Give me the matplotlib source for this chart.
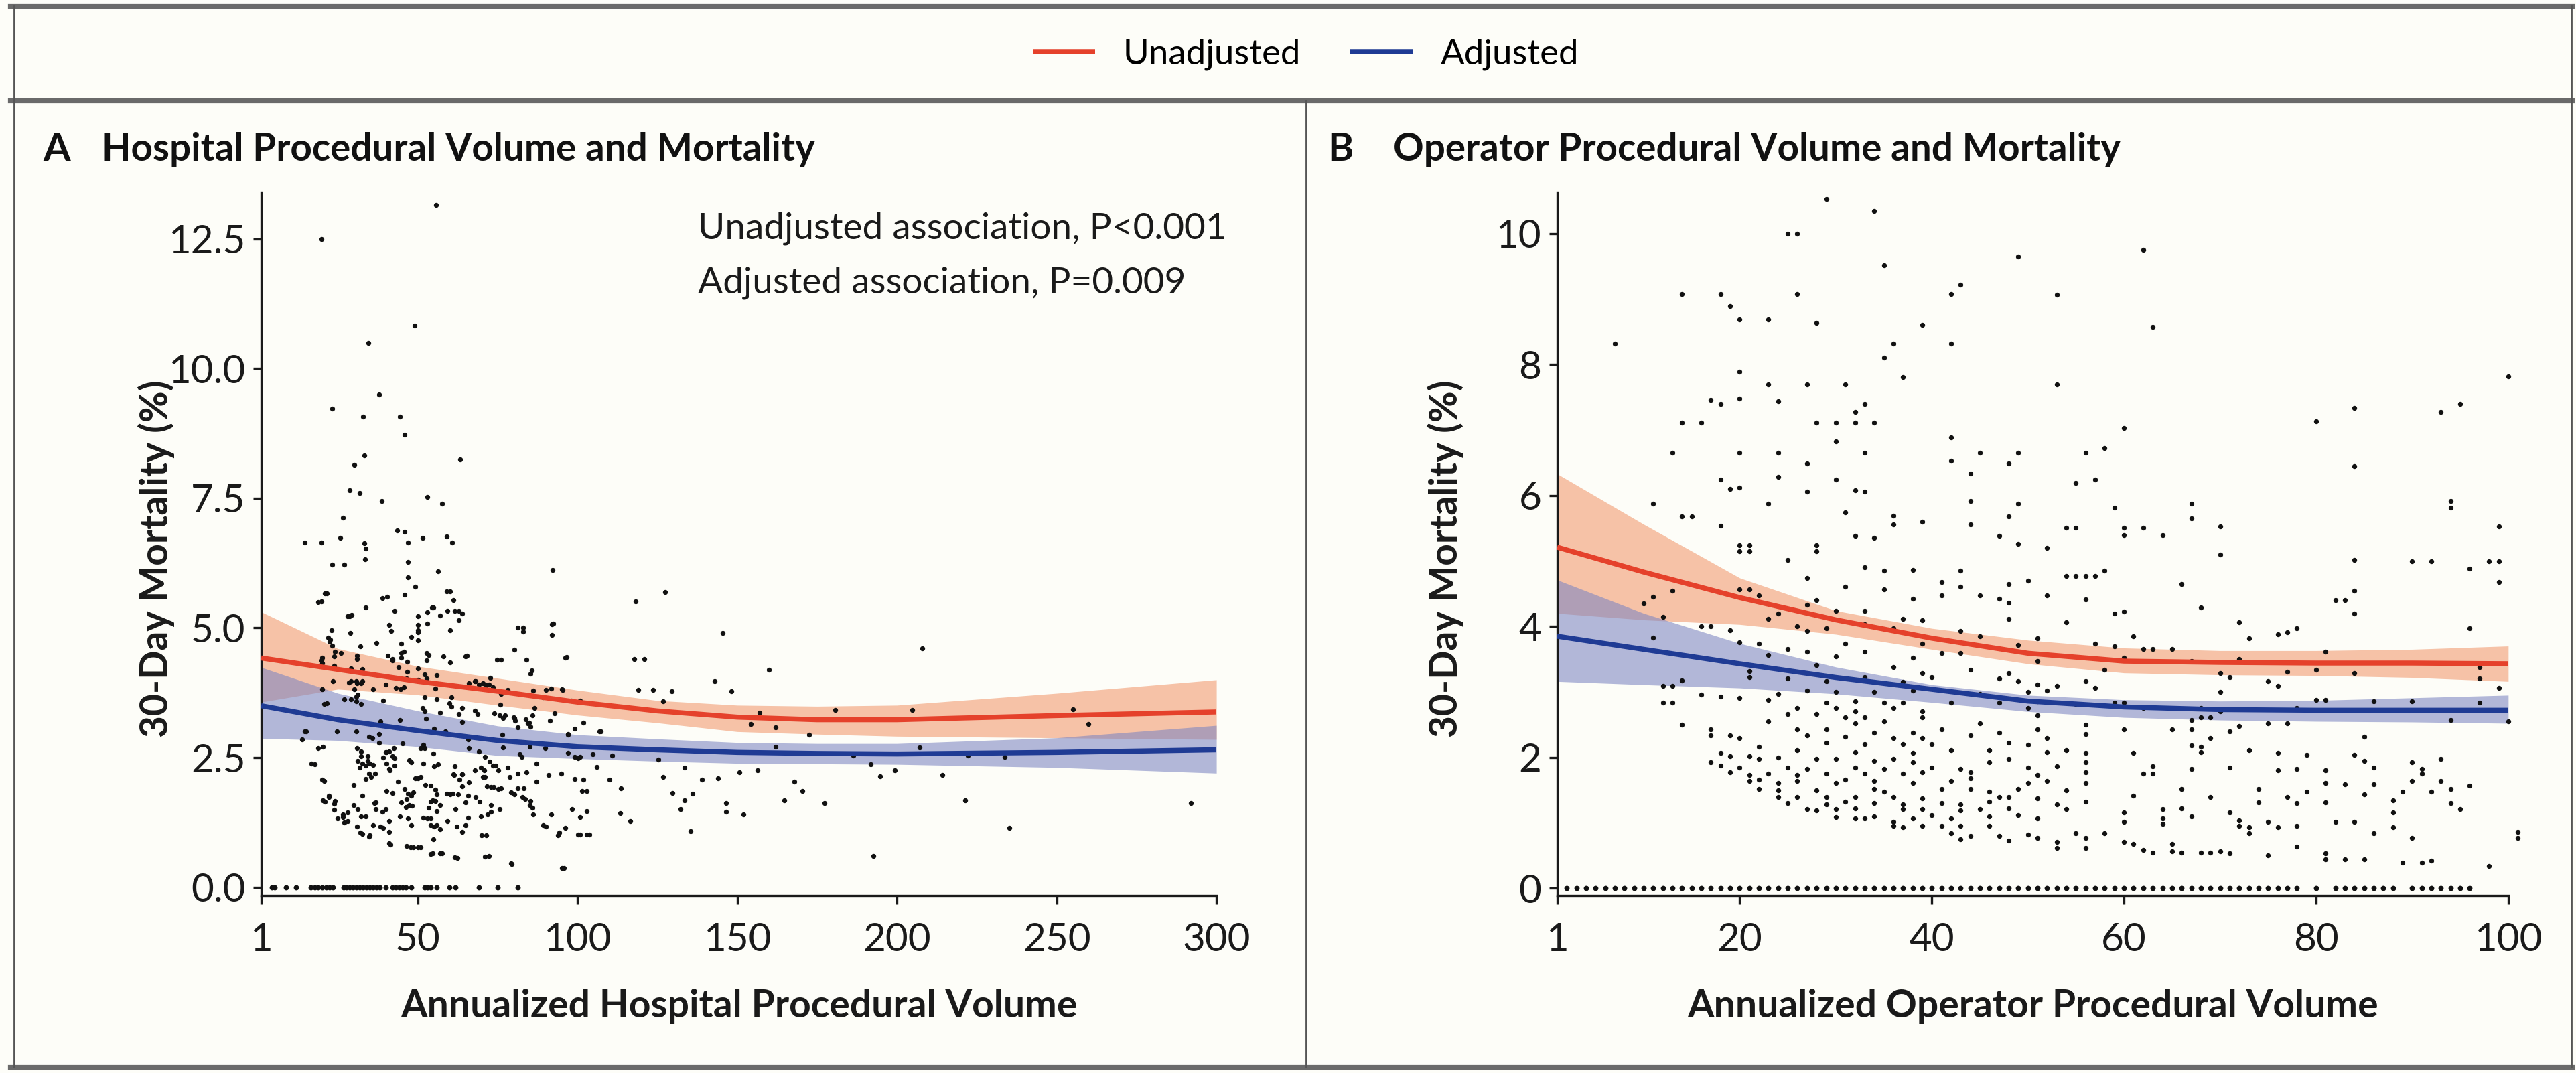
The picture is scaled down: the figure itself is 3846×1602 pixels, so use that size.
import numpy as np
import matplotlib.pyplot as plt
from matplotlib.lines import Line2D

plt.rcParams['font.family'] = ['Lato', 'DejaVu Sans']

# ---------------- data ----------------
# Panel A: hospital volume
hosp_curve_x = [1, 25, 50, 75, 100, 125, 150, 175, 200, 250, 300]
hosp_unadj = [4.42, 4.20, 3.97, 3.78, 3.57, 3.40, 3.28, 3.23, 3.23, 3.31, 3.38]
hosp_unadj_hi = [5.31, 4.60, 4.26, 4.03, 3.80, 3.60, 3.51, 3.49, 3.51, 3.74, 4.00]
hosp_unadj_lo = [3.57, 3.82, 3.71, 3.51, 3.32, 3.17, 3.00, 2.95, 2.91, 2.88, 2.85]
hosp_adj = [3.50, 3.23, 3.02, 2.83, 2.71, 2.65, 2.60, 2.58, 2.57, 2.60, 2.65]
hosp_adj_hi = [4.24, 3.74, 3.40, 3.11, 2.94, 2.86, 2.79, 2.77, 2.77, 2.88, 3.12]
hosp_adj_lo = [2.87, 2.83, 2.71, 2.54, 2.48, 2.43, 2.39, 2.38, 2.37, 2.31, 2.20]

hosp_points = [
    (55.8, 13.15), (19.8, 12.5), (49, 10.83), (34.6, 10.5), (37.8, 9.5), (23.2, 9.23),
    (32.8, 9.07), (44.5, 9.07), (45.9, 8.73), (33.3, 8.33), (63.3, 8.25), (30.2, 8.15),
    (28.6, 7.65), (31.8, 7.6), (38.8, 7.45), (52.9, 7.53), (57.6, 7.4), (26.6, 7.12),
    (14.6, 6.65), (19.8, 6.65), (25.8, 6.74), (33.3, 6.64), (33.8, 6.53), (43.5, 6.88),
    (45.9, 6.85), (46.9, 6.65), (51.6, 6.74), (59.1, 6.76), (60.7, 6.65), (33.6, 6.32),
    (23.2, 6.22), (27.1, 6.22), (46.9, 6.27), (56.3, 6.09), (92.3, 6.12), (46.9, 5.98),
    (49.2, 5.79), (21.6, 5.67), (40.4, 5.6), (60.2, 5.7), (127.5, 5.69), (118.3, 5.51),
    (19.8, 5.51), (54.5, 5.4), (62.8, 5.33), (57, 5.24), (29.4, 5.25), (50, 5.06),
    (92.5, 5.08), (82.9, 5.0), (41.7, 4.94), (145.5, 4.9), (22.6, 4.78), (37.1, 4.71),
    (24, 4.54), (45.6, 4.54), (208, 4.6), (53.4, 4.48), (96.7, 4.44), (117.8, 4.4),
    (120.9, 4.4), (65.4, 4.46), (19.8, 4.37), (42.2, 4.37), (76.1, 4.39), (85.7, 4.18),
    (160, 4.19), (29.2, 4.22), (52.1, 4.1), (46.4, 4.03), (142.9, 3.97), (23.4, 3.97),
    (31, 3.94), (32.6, 3.97), (67.8, 3.97), (69.1, 3.91), (72.2, 3.91), (73.5, 3.86),
    (45.6, 3.86), (55.5, 3.83), (91.7, 3.83), (95.4, 3.8), (119.1, 3.8), (123.6, 3.8),
    (129.6, 3.78), (148.1, 3.78), (76.1, 3.73), (60.5, 3.66), (27.1, 3.62), (30.7, 3.59),
    (126.9, 3.59), (21.6, 3.55), (63.8, 3.46), (86.5, 3.46), (180.7, 3.42), (204.7, 3.42),
    (255.2, 3.43), (156.9, 3.36), (68.8, 3.34), (77.4, 3.32), (80, 3.28), (52.6, 3.25),
    (44.3, 3.23), (38.3, 3.2), (84.9, 3.17), (101.9, 3.17), (259.9, 3.15), (154.3, 3.15),
    (162.1, 3.08), (55.2, 3.05), (15.1, 3.0), (58.6, 3.0), (107.4, 3.0), (76.4, 2.94),
    (97, 2.94), (35.9, 2.88), (65.7, 2.85), (83.9, 2.79), (172.6, 2.94), (20.3, 2.71),
    (45.3, 2.77), (50.8, 2.68), (76.6, 2.69), (162.1, 2.71), (207, 2.69), (32.3, 2.62),
    (40.1, 2.6), (69.1, 2.62), (104.8, 2.57), (110.8, 2.54), (82.6, 2.51), (100.9, 2.51),
    (186.4, 2.54), (222.1, 2.54), (233.8, 2.51), (125.4, 2.46), (34.4, 2.43), (17.7, 2.37),
    (51.8, 2.39), (56.3, 2.37), (31.8, 2.31), (74.3, 2.35), (133.5, 2.31), (191.9, 2.37),
    (41.2, 2.25), (70.9, 2.25), (156.4, 2.25), (150.7, 2.22), (199.4, 2.25), (214.3, 2.16),
    (194.7, 2.14), (35.4, 2.13), (49.2, 2.1), (63.1, 2.08), (78.7, 2.12), (90.9, 2.16),
    (110, 2.08), (126.9, 2.13), (138.9, 2.08), (143.9, 2.1), (167.9, 2.03), (20.8, 2.05),
    (29.9, 1.97), (52.4, 1.97), (73.8, 1.93), (81.3, 1.91), (101.4, 1.85), (113.6, 1.91),
    (170.5, 1.85), (42.2, 1.82), (59.1, 1.8), (65.7, 1.77), (129.8, 1.82), (136.1, 1.8),
    (164.8, 1.68), (177.3, 1.62), (221.3, 1.68), (292, 1.62), (22.1, 1.74), (24, 1.66),
    (36.5, 1.62), (46.4, 1.7), (55.5, 1.66), (69.3, 1.65), (85.2, 1.66), (133.5, 1.68),
    (146.5, 1.62), (31.2, 1.51), (39.9, 1.51), (53.4, 1.53), (61.8, 1.51), (75.6, 1.51),
    (86, 1.53), (98.3, 1.51), (132.2, 1.51), (26.6, 1.4), (32.3, 1.36), (44.5, 1.37),
    (51.8, 1.34), (65.7, 1.34), (69.8, 1.36), (91.7, 1.4), (113.3, 1.43), (146.5, 1.45),
    (116.5, 1.28), (28.1, 1.28), (38.3, 1.17), (47.9, 1.19), (55.2, 1.17), (62.3, 1.17),
    (90.2, 1.17), (152, 1.4), (135.3, 1.08), (235.2, 1.14), (32, 1.05), (34.9, 1.0),
    (71.4, 1.0), (94.4, 1.05), (100.9, 1.02), (103.7, 1.02), (41.4, 0.82), (47.7, 0.77),
    (50.8, 0.77), (54.7, 0.65), (57.6, 0.65), (62.5, 0.56), (72.2, 0.6), (79.5, 0.45),
    (95.7, 0.37), (192.7, 0.6),
    # denser cluster, read from a closer look
    (18.9, 5.5), (21, 5.66), (33.8, 5.4), (39, 5.57), (45.9, 5.64), (59, 5.7), (61.2, 5.54),
    (42.7, 5.33), (50.1, 5.23), (28, 5.23), (28.7, 5.23), (41, 5.06), (52.9, 5.3), (54.9, 5.4),
    (59.2, 5.33), (61.6, 5.33), (63.9, 5.28), (62.8, 5.15), (52.9, 5.09), (50.1, 4.96),
    (50.1, 4.92), (60.1, 4.96), (23.1, 4.96), (28.9, 4.9), (48, 4.83), (50.1, 4.76),
    (44.8, 4.7), (32.1, 4.65), (21.9, 4.81), (22.4, 4.73), (23.3, 4.66), (25.9, 4.51),
    (23.8, 4.45), (20, 4.42), (20, 4.32), (23.8, 4.27), (31, 4.47), (31, 4.4), (32.6, 4.21),
    (40.6, 4.47), (42, 4.4), (44.8, 4.51), (44.8, 4.42), (46.8, 4.35), (43.9, 4.24),
    (46.8, 4.15), (50.1, 4.22), (52.8, 4.52), (52.8, 4.37), (58.1, 4.45), (60.1, 4.34),
    (64.9, 4.45), (56, 4.09), (52.8, 4.02), (50.1, 4.0), (40.1, 3.91), (43.1, 3.84),
    (44.6, 3.82), (28.4, 3.95), (29.1, 3.97), (30.8, 3.97), (32.2, 3.93), (30.1, 3.82),
    (31.2, 3.71), (36, 3.82), (20, 3.82), (29.1, 3.63), (30.8, 3.67), (32.2, 3.54),
    (20.8, 3.54), (39.1, 3.6), (52.2, 3.66), (56, 3.62), (51.5, 3.46), (52.2, 3.39),
    (59.9, 3.55), (60.6, 3.48), (57, 3.36), (62.9, 3.34), (64, 3.19), (66.1, 3.93),
    (68, 3.97), (70.4, 3.93), (71.4, 3.89), (72.8, 4.04), (78.1, 3.8), (74.9, 4.39),
    (80.2, 4.58), (84.1, 4.39), (85.2, 4.12), (81.3, 5.0), (83, 4.93), (92, 5.07),
    (92, 4.87), (96.1, 4.42), (86.2, 3.79), (90.2, 3.8), (95.1, 3.82), (89.2, 3.66),
    (98.1, 3.6), (100.9, 3.6), (92.9, 3.35), (75.9, 3.52), (67.9, 3.41), (73.9, 3.35),
    (75.6, 3.31), (76.6, 3.26), (80.2, 3.26), (80.5, 3.21), (83.8, 3.24), (84.4, 3.16),
    (91.3, 3.21), (86, 3.32), (99.1, 3.05), (97.1, 2.95), (106.8, 3.01), (81.3, 3.08),
    (85.2, 3.09), (85.1, 2.71), (90, 2.68), (81.9, 2.56), (97, 2.59), (99.1, 2.51),
    (100.2, 2.49), (106.1, 2.32), (94.9, 2.19), (99.1, 2.09), (101.9, 2.07), (103, 1.85),
    (87.1, 2.39), (87.1, 2.03), (84.1, 2.22), (81.3, 2.19), (78.1, 2.31), (75.3, 2.26),
    (73.5, 2.34), (72.5, 2.42), (71.1, 2.51), (69.8, 2.31), (67.9, 2.26), (70.4, 2.13),
    (71.1, 2.13), (71.6, 1.95), (72.9, 1.93), (75.3, 1.89), (76, 1.91), (66, 2.68),
    (66, 2.02), (63.9, 2.18), (63.9, 1.95), (61.6, 2.33), (61.1, 2.18), (60.2, 1.79),
    (60.9, 1.8), (62.7, 1.79), (68, 1.74), (64.9, 1.63), (79.2, 1.83), (80.2, 1.79),
    (83.2, 1.91), (82.7, 1.74), (83.7, 1.7), (85.1, 1.59), (86.2, 1.4), (72.9, 1.59),
    (72.9, 1.46), (71.8, 1.4), (89.3, 1.2), (93.9, 1.0), (96.1, 1.15), (100.9, 1.35),
    (103, 1.47), (100.2, 1.02), (103, 1.02), (70, 1.0), (71.1, 0.59), (79.2, 0.46),
    (95.1, 0.37), (54.9, 2.58), (51.8, 2.75), (52.2, 2.68), (47.3, 2.45), (48, 2.41),
    (40.3, 2.6), (41.1, 2.62), (42, 2.53), (42.7, 2.49), (42.5, 2.68), (39.2, 2.5),
    (40.3, 2.38), (41.1, 2.28), (42.7, 2.34), (34.3, 2.53), (32.2, 2.53), (31, 2.68),
    (31.2, 2.43), (32.6, 2.39), (33.8, 2.34), (35, 2.38), (36.1, 2.36), (34.7, 2.19),
    (36.6, 2.19), (33.8, 2.09), (34.7, 2.9), (37.8, 2.95), (37.8, 2.79), (24.7, 3.0),
    (30.8, 3.0), (14.7, 3.0), (13.7, 2.85), (18.9, 2.68), (16.8, 2.38), (20, 2.07),
    (22.1, 1.76), (20.3, 1.68), (21, 1.65), (23.8, 1.61), (23.8, 1.49), (24.9, 1.33),
    (26.6, 1.35), (27, 1.25), (28, 1.44), (30, 1.59), (32.7, 1.76), (33.8, 1.37),
    (31, 1.17), (32.6, 1.03), (34.7, 0.98), (36, 1.19), (36.8, 1.63), (36.8, 1.5),
    (38.9, 1.46), (39.1, 1.15), (41.1, 1.27), (41.1, 1.07), (41.1, 0.85), (40.3, 1.85),
    (43.8, 2.04), (44.8, 1.63), (46.2, 1.55), (47.3, 1.59), (48.1, 1.57), (45.9, 1.89),
    (47, 1.8), (48, 1.76), (48.7, 1.83), (46.9, 1.33), (46.6, 0.79), (48.7, 0.77),
    (50.1, 0.77), (50.1, 2.1), (50.8, 2.13), (54, 1.96), (55.6, 1.88), (56, 1.79),
    (54, 1.65), (54.6, 1.68), (57, 1.59), (56, 1.47), (52.9, 1.33), (54, 1.33), (54, 1.2),
    (56, 1.2), (57, 1.12), (59.2, 1.27), (54.9, 0.93), (54, 0.64), (57, 0.66), (61.6, 0.58),
    (64.9, 1.2), (63.9, 1.07), (55, 2.33), (61.3, 2.17), (63.9, 2.18),
]
hosp_zero_x = [4.4, 5.3, 8.8, 11.9, 16.6, 17.7, 18.9, 20.0, 21.4, 22.4, 23.5, 26.8, 27.7,
               28.7, 29.8, 30.8, 31.9, 32.9, 34.0, 35.0, 36.1, 37.1, 38.2, 40.1, 42.0, 43.1,
               44.1, 45.2, 46.2, 48.0, 52.2, 53.1, 54.1, 56.0, 59.9, 61.9, 69.1, 75.0, 81.3]

# Panel B: operator volume
oper_curve_x = [1, 10, 20, 30, 40, 50, 60, 70, 80, 90, 100]
oper_unadj = [5.21, 4.83, 4.44, 4.10, 3.82, 3.59, 3.47, 3.45, 3.44, 3.44, 3.43]
oper_unadj_hi = [6.33, 5.56, 4.74, 4.24, 3.97, 3.79, 3.67, 3.63, 3.63, 3.65, 3.70]
oper_unadj_lo = [4.20, 4.10, 4.03, 3.88, 3.65, 3.43, 3.29, 3.26, 3.25, 3.22, 3.16]
oper_adj = [3.85, 3.65, 3.43, 3.22, 3.04, 2.86, 2.77, 2.73, 2.72, 2.72, 2.72]
oper_adj_hi = [4.71, 4.20, 3.74, 3.38, 3.11, 2.95, 2.88, 2.86, 2.87, 2.91, 2.95]
oper_adj_lo = [3.16, 3.11, 3.06, 2.97, 2.84, 2.70, 2.61, 2.57, 2.55, 2.54, 2.52]

oper_points = [
    (29, 10.53), (34, 10.34), (25, 10.0), (26, 10.0), (49, 9.65), (62, 9.75), (35, 9.52),
    (14, 9.08), (18, 9.08), (26, 9.08), (53, 9.07), (42, 9.08), (43, 9.22), (19, 8.89),
    (20, 8.69), (23, 8.69), (28, 8.64), (39, 8.61), (63, 8.57), (7, 8.32), (36, 8.32),
    (42, 8.32), (35, 8.1), (20, 7.89), (37, 7.81), (100, 7.82), (23, 7.69), (27, 7.69),
    (31, 7.69), (53, 7.69), (17, 7.46), (18, 7.4), (20, 7.48), (24, 7.44), (33, 7.4),
    (84, 7.34), (95, 7.4), (93, 7.28), (32, 7.28), (14, 7.11), (16, 7.11), (28, 7.11),
    (30, 7.11), (32, 7.11), (34, 7.11), (80, 7.13), (60, 7.03), (30, 6.83), (42, 6.89),
    (13, 6.65), (20, 6.65), (24, 6.65), (33, 6.65), (45, 6.65), (49, 6.65), (56, 6.65),
    (58, 6.72), (42, 6.53), (27, 6.49), (48, 6.49), (84, 6.45), (44, 6.33), (24, 6.28),
    (30, 6.24), (18, 6.24), (57, 6.24), (19, 6.1), (20, 6.12), (55, 6.19), (27, 6.06),
    (32, 6.08), (33, 6.06), (11, 5.87), (23, 5.87), (44, 5.92), (49, 5.87), (67, 5.87),
    (94, 5.92), (94, 5.81), (59, 5.81), (14, 5.68), (15, 5.68), (36, 5.69), (31, 5.74),
    (48, 5.68), (67, 5.65), (36, 5.56), (54, 5.51), (55, 5.51), (70, 5.53), (99, 5.53),
    (18, 5.54), (44, 5.56), (60, 5.51), (62, 5.51), (60, 5.39), (64, 5.39), (39, 5.6),
    (47, 5.38), (34, 5.35), (32, 5.38), (20, 5.24), (21, 5.24), (20, 5.15), (21, 5.15),
    (28, 5.24), (28, 5.15), (52, 5.2), (70, 5.1), (49, 5.26), (25, 5.01), (84, 5.01),
    (90, 4.99), (92, 4.99), (98, 4.99), (99, 4.99), (96, 4.88), (33, 4.9), (35, 4.85),
    (38, 4.86), (43, 4.85), (54, 4.77), (55, 4.77), (56, 4.77), (58, 4.85), (57, 4.77),
    (27, 4.74), (99, 4.68), (66, 4.65), (31, 4.61), (41, 4.68), (43, 4.61), (48, 4.65),
    (50, 4.7), (21, 4.56), (22, 4.47), (20, 4.56), (11, 4.45), (13, 4.54), (18, 4.51),
    (35, 4.56), (38, 4.42), (41, 4.47), (45, 4.47), (47, 4.42), (48, 4.36), (52, 4.47),
    (84, 4.54), (82, 4.4), (83, 4.4), (84, 4.2), (56, 4.41), (27, 4.33), (28, 4.4),
    (10, 4.35), (24, 4.2), (30, 4.24), (33, 4.24), (68, 4.29), (60, 4.23), (59, 4.2),
    (12, 4.15), (23, 4.12), (37, 4.12), (39, 4.09), (48, 4.12), (54, 4.06), (72, 4.06),
    (77, 3.91), (78, 3.97), (76, 3.88), (96, 3.97), (16, 4.0), (17, 4.0), (19, 3.94),
    (26, 4.0), (27, 3.93), (29, 3.97), (33, 4.03), (36, 3.97), (43, 3.93), (45, 3.85),
    (51, 3.82), (11, 3.83), (73, 3.82), (61, 3.85), (20, 3.76), (22, 3.74), (31, 3.74),
    (39, 3.74), (49, 3.72), (57, 3.74), (59, 3.7), (62, 3.65), (63, 3.65), (65, 3.65),
    (25, 3.65), (27, 3.61), (33, 3.61), (41, 3.59), (43, 3.59), (81, 3.61), (23, 3.56),
    (30, 3.54), (38, 3.52), (60, 3.52), (67, 3.47), (72, 3.5), (51, 3.47), (28, 3.41),
    (36, 3.38), (97, 3.38), (44, 3.34), (48, 3.29), (58, 3.34), (70, 3.29), (77, 3.31),
    (21, 3.32), (21, 3.23), (33, 3.22), (39, 3.29), (40, 3.23), (71, 3.22), (84, 3.29),
    (80, 3.34), (25, 3.2), (29, 3.16), (37, 3.15), (47, 3.2), (49, 3.16), (51, 3.11),
    (53, 3.09), (56, 3.16), (14, 3.17), (75, 3.16), (12, 3.09), (13, 3.09), (76, 3.09),
    (97, 3.2), (99, 3.06), (27, 3.02), (30, 3.0), (34, 3.0), (38, 3.02), (45, 2.97),
    (50, 3.0), (52, 3.02), (57, 3.06), (70, 3.0), (24, 2.97), (16, 2.96), (18, 2.93),
    (20, 2.91), (12, 2.84), (13, 2.84), (23, 2.88), (29, 2.84), (32, 2.86), (35, 2.84),
    (37, 2.84), (42, 2.84), (47, 2.84), (51, 2.86), (55, 2.82), (59, 2.84), (60, 2.84),
    (80, 2.88), (81, 2.88), (86, 2.86), (90, 2.86), (97, 2.84), (26, 2.75), (30, 2.75),
    (32, 2.7), (36, 2.75), (39, 2.7), (50, 2.75), (62, 2.75), (68, 2.75), (70, 2.7),
    (78, 2.75), (25, 2.66), (28, 2.66), (31, 2.61), (33, 2.61), (39, 2.61), (51, 2.64),
    (68, 2.61), (69, 2.61), (67, 2.57), (94, 2.57), (100, 2.55), (14, 2.5), (23, 2.55),
    (32, 2.52), (35, 2.55), (45, 2.52), (56, 2.5), (75, 2.52), (77, 2.52), (60, 2.43),
    (29, 2.43), (34, 2.38), (38, 2.38), (41, 2.43), (47, 2.38), (51, 2.43), (65, 2.43),
    (67, 2.43), (71, 2.4), (72, 2.48), (17, 2.43), (26, 2.43), (27, 2.34), (31, 2.31),
    (36, 2.29), (39, 2.29), (44, 2.34), (52, 2.29), (56, 2.36), (69, 2.29), (85, 2.31),
    (17, 2.34), (19, 2.34), (20, 2.29), (29, 2.22), (33, 2.2), (37, 2.2), (40, 2.2),
    (48, 2.22), (50, 2.19), (67, 2.18), (68, 2.16), (22, 2.16), (26, 2.11), (32, 2.08),
    (38, 2.07), (42, 2.11), (46, 2.11), (52, 2.08), (54, 2.11), (56, 2.07), (61, 2.07),
    (73, 2.11), (76, 2.07), (79, 2.04), (84, 2.04), (68, 2.08), (18, 2.07), (19, 2.02),
    (21, 2.02), (22, 1.98), (24, 2.0), (28, 1.98), (30, 1.98), (34, 1.95), (36, 1.98),
    (38, 1.93), (46, 1.93), (48, 1.98), (56, 1.93), (85, 1.95), (90, 1.93), (93, 1.98),
    (17, 1.93), (18, 1.87), (20, 1.84), (25, 1.84), (27, 1.82), (32, 1.84), (35, 1.82),
    (40, 1.84), (43, 1.82), (50, 1.84), (53, 1.86), (63, 1.86), (67, 1.82), (71, 1.84),
    (76, 1.8), (78, 1.82), (81, 1.8), (86, 1.84), (91, 1.82), (91, 1.75), (19, 1.77),
    (21, 1.73), (23, 1.75), (26, 1.73), (29, 1.75), (33, 1.75), (37, 1.75), (39, 1.77),
    (44, 1.77), (51, 1.73), (56, 1.77), (62, 1.75), (63, 1.75), (21, 1.64), (22, 1.66),
    (24, 1.61), (26, 1.64), (30, 1.61), (31, 1.66), (34, 1.64), (38, 1.61), (42, 1.64),
    (44, 1.68), (50, 1.61), (52, 1.64), (56, 1.61), (81, 1.61), (83, 1.59), (86, 1.59),
    (90, 1.64), (93, 1.64), (94, 1.52), (22, 1.52), (24, 1.5), (28, 1.5), (34, 1.52),
    (35, 1.48), (41, 1.52), (44, 1.52), (46, 1.48), (49, 1.52), (54, 1.5), (66, 1.52),
    (74, 1.52), (79, 1.48), (89, 1.48), (92, 1.48), (96, 1.57), (24, 1.39), (26, 1.39),
    (29, 1.39), (32, 1.39), (36, 1.39), (39, 1.37), (47, 1.39), (48, 1.39), (51, 1.37),
    (61, 1.41), (69, 1.39), (77, 1.39), (85, 1.43), (25, 1.3), (29, 1.28), (31, 1.32),
    (34, 1.3), (37, 1.28), (41, 1.3), (43, 1.28), (46, 1.32), (53, 1.28), (56, 1.32),
    (74, 1.31), (78, 1.3), (81, 1.31), (88, 1.34), (94, 1.3), (95, 1.21), (27, 1.21),
    (28, 1.19), (30, 1.21), (32, 1.22), (37, 1.21), (39, 1.21), (43, 1.19), (45, 1.21),
    (48, 1.22), (54, 1.21), (60, 1.16), (64, 1.21), (66, 1.22), (88, 1.16), (75, 1.02),
    (71, 1.16), (30, 1.09), (32, 1.07), (33, 1.07), (34, 1.1), (36, 1.02), (38, 1.07),
    (40, 1.12), (42, 1.07), (46, 1.1), (49, 1.12), (51, 1.07), (60, 1.02), (64, 1.07),
    (67, 1.1), (72, 1.04), (82, 1.02), (84, 1.02), (36, 0.95), (37, 0.93), (39, 0.95),
    (41, 0.95), (43, 0.95), (46, 0.95), (64, 0.98), (73, 0.93), (72, 0.95), (76, 0.93),
    (78, 0.95), (88, 0.93), (101, 0.86), (101, 0.77), (42, 0.84), (44, 0.8), (47, 0.8),
    (50, 0.82), (51, 0.77), (55, 0.84), (56, 0.77), (58, 0.84), (73, 0.84), (86, 0.84),
    (43, 0.75), (48, 0.73), (53, 0.71), (60, 0.71), (61, 0.68), (65, 0.68), (90, 0.77),
    (78, 0.64), (62, 0.59), (63, 0.55), (65, 0.57), (66, 0.55), (68, 0.55), (69, 0.55),
    (70, 0.57), (56, 0.62), (71, 0.53), (81, 0.53), (81, 0.44), (83, 0.44), (85, 0.44),
    (75, 0.5), (89, 0.39), (91, 0.39), (92, 0.42), (98, 0.34), (53, 0.62),
]
oper_zero_x = [2, 3, 4, 5, 6, 7, 8, 9, 10, 11, 12, 13, 14, 15, 16, 17, 18, 19, 20, 21, 22,
               23, 24, 25, 26, 27, 28, 29, 30, 31, 32, 33, 34, 35, 36, 37, 38, 39, 40, 41,
               42, 43, 44, 45, 46, 47, 48, 49, 50, 51, 52, 53, 54, 55, 56, 57, 58, 59, 60,
               61, 62, 63, 64, 65, 66, 67, 68, 69, 70, 71, 72, 73, 74, 75, 76, 77, 78, 80,
               82, 83, 84, 85, 86, 87, 88, 90, 91, 92, 93, 94, 95, 96]

hosp_xticks = [1, 50, 100, 150, 200, 250, 300]
hosp_yticks = [0.0, 2.5, 5.0, 7.5, 10.0, 12.5]
oper_xticks = [1, 20, 40, 60, 80, 100]
oper_yticks = [0, 2, 4, 6, 8, 10]

# ---------------- styling ----------------
BG = '#fdfdf8'
RED = '#e5412b'
RED_BAND = '#f6c2a7'
BLUE = '#1f3b94'
BLUE_BAND = '#7c85c2'
FRAME = '#6a6a6a'
INK = '#1a1a1a'

fig = plt.figure(figsize=(19.23, 8.01), dpi=200, facecolor=BG)


def panel(rect, cx, un, un_hi, un_lo, ad, ad_hi, ad_lo, pts, zero_x,
          xticks, yticks, ylim, xlabel, ylab_x):
    ax = fig.add_axes(rect)
    ax.set_facecolor('none')
    ax.fill_between(cx, un_lo, un_hi, color=RED_BAND, lw=0, zorder=1)
    ax.fill_between(cx, ad_lo, ad_hi, color=BLUE_BAND, alpha=0.58, lw=0, zorder=1.5)
    px, py = zip(*pts)
    ax.scatter(px, py, s=7, color='#111111', linewidths=0, zorder=3, clip_on=False)
    ax.scatter(zero_x, [0] * len(zero_x), s=8, color='#111111', linewidths=0,
               zorder=3, clip_on=False)
    l1, = ax.plot(cx, un, color=RED, lw=2.7, zorder=4, solid_capstyle='butt')
    l2, = ax.plot(cx, ad, color=BLUE, lw=2.7, zorder=4, solid_capstyle='butt')
    ax.set_xlim(xticks[0], xticks[-1])
    ax.set_ylim(*ylim)
    ax.set_xticks(xticks)
    ax.set_yticks(yticks)
    for s in ['top', 'right']:
        ax.spines[s].set_visible(False)
    for s in ['left', 'bottom']:
        ax.spines[s].set_linewidth(1.2)
        ax.spines[s].set_color(INK)
    ax.tick_params(axis='both', direction='out', length=4.5, width=1.2,
                   color=INK, labelsize=21, labelcolor=INK)
    ax.tick_params(axis='x', pad=10)
    ax.tick_params(axis='y', pad=4)
    ax.set_xlabel(xlabel, fontsize=20.5, fontweight='bold', color=INK)
    ax.xaxis.set_label_coords(0.5, -0.158)
    ax.xaxis.label.set_va('center')
    ax.set_ylabel('30-Day Mortality (%)', fontsize=20.5, fontweight='bold', color=INK)
    ax.yaxis.set_label_coords(ylab_x, 0.479)
    ax.yaxis.label.set_va('center')
    return ax, l1, l2


axA, redA, blueA = panel([0.1014, 0.1654, 0.3708, 0.6554], hosp_curve_x,
                         hosp_unadj, hosp_unadj_hi, hosp_unadj_lo,
                         hosp_adj, hosp_adj_hi, hosp_adj_lo,
                         hosp_points, hosp_zero_x, hosp_xticks, hosp_yticks,
                         (-0.16, 13.4), 'Annualized Hospital Procedural Volume', -0.110)
axA.set_yticklabels([f'{v:.1f}' for v in hosp_yticks])

axB, redB, blueB = panel([0.6045, 0.1654, 0.3692, 0.6554], oper_curve_x,
                         oper_unadj, oper_unadj_hi, oper_unadj_lo,
                         oper_adj, oper_adj_hi, oper_adj_lo,
                         oper_points, oper_zero_x, oper_xticks, oper_yticks,
                         (-0.11, 10.63), 'Annualized Operator Procedural Volume', -0.1176)

# annotation in panel A
fig.text(0.2709, 0.7871, 'Unadjusted association, P<0.001', fontsize=19.8,
         va='center', ha='left', color=INK)
fig.text(0.2709, 0.7366, 'Adjusted association, P=0.009', fontsize=19.8,
         va='center', ha='left', color=INK)

# panel titles
ty = 1 - 224 / 1602
fig.text(64 / 3846, ty, 'A', fontsize=21, fontweight='bold', va='center', color='#111')
fig.text(152 / 3846, ty, 'Hospital Procedural Volume and Mortality', fontsize=20.4,
         fontweight='bold', va='center', color='#111')
fig.text(1982 / 3846, ty, 'B', fontsize=21, fontweight='bold', va='center', color='#111')
fig.text(2080 / 3846, ty, 'Operator Procedural Volume and Mortality', fontsize=20.4,
         fontweight='bold', va='center', color='#111')

# legend
fig.legend([redA, blueA], ['Unadjusted', 'Adjusted'], loc='center',
           bbox_to_anchor=(0.507, 0.949), ncol=2, frameon=False, fontsize=19,
           handlelength=1.75, handletextpad=0.8, columnspacing=1.4)

# frame lines
sep_y = 1 - 150 / 1602
for y in [1 - 9 / 1602, sep_y, 9 / 1602]:
    fig.add_artist(Line2D([0.004, 0.9985], [y, y], transform=fig.transFigure,
                          color=FRAME, lw=2.6))
for x in [0.0055, 0.9982]:
    fig.add_artist(Line2D([x, x], [9 / 1602, 1 - 9 / 1602], transform=fig.transFigure,
                          color='#555555', lw=1.0))
fig.add_artist(Line2D([1950 / 3846, 1950 / 3846], [9 / 1602, sep_y],
                      transform=fig.transFigure, color='#555555', lw=1.0))

fig.savefig('out.png', dpi=200, facecolor=BG)
